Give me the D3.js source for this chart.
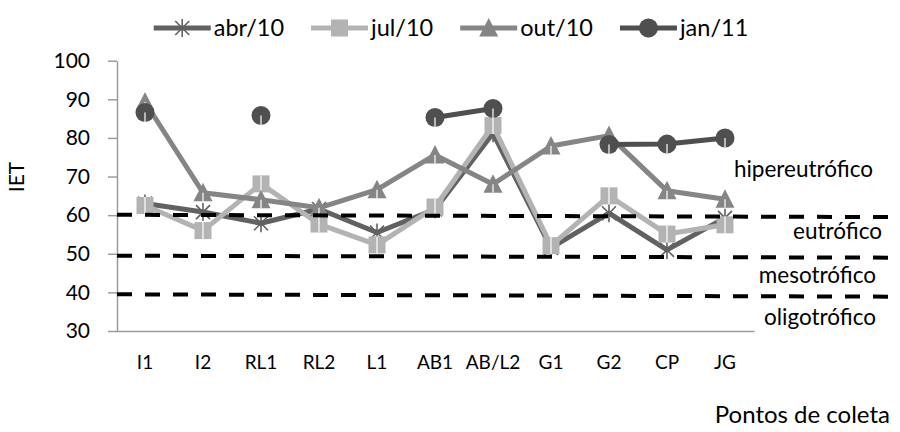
<!DOCTYPE html>
<html>
<head>
<meta charset="utf-8">
<script src="https://cdn.jsdelivr.net/npm/d3@7"></script>
<style>
  html, body { margin: 0; padding: 0; background: #fff; }
  svg { display: block; font-family: Lato, "Open Sans", sans-serif; }
</style>
</head>
<body>
<svg id="chart" width="900" height="432"></svg>
<script>
// ---- data ----
const categories = ["I1", "I2", "RL1", "RL2", "L1", "AB1", "AB/L2", "G1", "G2", "CP", "JG"];
const abr10 = [63.0, 60.8, 57.9, 61.6, 55.5, 61.5, 81.2, 51.5, 60.5, 51.0, 59.3];
const jul10 = [62.5, 56.0, 68.1, 57.7, 52.3, 62.1, 83.2, 52.1, 65.0, 55.1, 57.5];
const out10 = [89.3, 65.8, 64.0, 61.9, 66.6, 75.6, 68.0, 77.9, 80.6, 66.3, 64.1];
const jan11 = [86.6, null, 85.8, null, null, 85.3, 87.6, null, 78.3, 78.4, 80.0];
const seriesNames = ["abr/10", "jul/10", "out/10", "jan/11"];
const yTicks = [30, 40, 50, 60, 70, 80, 90, 100];
const thresholdStart = [60.1, 49.5, 39.5];
const thresholdEnd = [59.5, 49.0, 38.9];
const zoneLabels = ["hipereutrófico", "eutrófico", "mesotrófico", "oligotrófico"];

// ---- setup ----
const svg = d3.select("#chart");
const x = d3.scaleBand().domain(categories).range([116, 754]).paddingInner(0).paddingOuter(0);
const y = d3.scaleLinear().domain([30, 100]).range([331, 60.7]);
const cx = c => x(c) + x.bandwidth() / 2;

const colors = ["#616161", "#b3b3b3", "#858585", "#4f4f4f"];
const shapes = ["star", "square", "triangle", "circle"];
const seriesData = [abr10, jul10, out10, jan11];

// ---- axes ----
const yAxis = svg.append("g").attr("transform", "translate(117,0)")
  .call(d3.axisLeft(y).tickValues(yTicks).tickSize(9).tickPadding(18).tickSizeOuter(0));
yAxis.select(".domain").attr("stroke", "#9c9c9c").attr("stroke-width", 1.5);
yAxis.selectAll(".tick line").attr("stroke", "#9c9c9c").attr("stroke-width", 1.5);
yAxis.selectAll(".tick text").attr("font-size", 21).attr("fill", "#000")
  .attr("font-family", "Lato, sans-serif");

const xAxis = svg.append("g").attr("transform", "translate(0,331)")
  .call(d3.axisBottom(x).tickSize(0).tickSizeOuter(0));
xAxis.select(".domain").attr("stroke", "#9c9c9c").attr("stroke-width", 1.5);
xAxis.selectAll(".tick text").attr("font-size", 19).attr("fill", "#000")
  .attr("font-family", "Lato, sans-serif").attr("y", 38).attr("dy", 0);

// axis titles
svg.append("text").attr("transform", "translate(24,177) rotate(-90)")
  .attr("text-anchor", "middle").attr("font-size", 21).text("IET");
svg.append("text").attr("x", 890).attr("y", 423).attr("text-anchor", "end")
  .attr("font-size", 24).text("Pontos de coleta");

// ---- marker drawing ----
function drawMarker(g, shape, color, streak) {
  if (shape === "star") {
    g.append("path").attr("d", "M-7,-7L7,7M-7,7L7,-7M0,-9L0,9")
      .attr("stroke", color).attr("stroke-width", 1.6).attr("fill", "none");
  } else if (shape === "square") {
    g.append("rect").attr("x", -8.5).attr("y", -8.5).attr("width", 17).attr("height", 17)
      .attr("fill", color);
    if (streak) g.append("line").attr("x1", 0).attr("x2", 0).attr("y1", -8.5).attr("y2", 8.5)
      .attr("stroke", "#fff").attr("stroke-width", 1.2);
  } else if (shape === "triangle") {
    g.append("path").attr("d", "M0,-10L9.5,8.5L-9.5,8.5Z").attr("fill", color);
    if (streak) g.append("line").attr("x1", 0).attr("x2", 0).attr("y1", 0).attr("y2", 8.5)
      .attr("stroke", "#fff").attr("stroke-width", 1.2);
  } else {
    g.append("circle").attr("r", 9.5).attr("fill", color);
    if (streak) g.append("line").attr("x1", 0).attr("x2", 0).attr("y1", 0).attr("y2", 9.5)
      .attr("stroke", "#fff").attr("stroke-width", 1.2);
  }
}

// ---- series ----
const line = d3.line()
  .defined(d => d.v !== null)
  .x(d => cx(d.c)).y(d => y(d.v));

seriesData.forEach((vals, i) => {
  const pts = categories.map((c, j) => ({ c: c, v: vals[j] }));
  const g = svg.append("g");
  g.append("path").datum(pts).attr("d", line)
    .attr("fill", "none").attr("stroke", colors[i]).attr("stroke-width", 5)
    .attr("stroke-linejoin", "round");
  pts.filter(d => d.v !== null).forEach(d => {
    const m = g.append("g").attr("transform", `translate(${cx(d.c)},${y(d.v)})`);
    drawMarker(m, shapes[i], colors[i], true);
  });
});

// ---- threshold dashed lines ----
const xStart = 117, xEnd = 888;
thresholdStart.forEach((v, i) => {
  svg.append("line")
    .attr("x1", xStart).attr("x2", xEnd)
    .attr("y1", y(v)).attr("y2", y(thresholdEnd[i]))
    .attr("stroke", "#000").attr("stroke-width", 4)
    .attr("stroke-dasharray", "15,13");
});

// ---- zone labels ----
const zoneX = [873, 882, 876, 876];
const zoneY = [177, 239, 283, 325];
zoneLabels.forEach((t, i) => {
  svg.append("text").attr("x", zoneX[i]).attr("y", zoneY[i])
    .attr("text-anchor", "end").attr("font-size", 22.5).text(t);
});

// ---- legend ----
const legend = svg.append("g");
const symW = 57, gapT = 3, gapItem = 27;
let items = [];
seriesNames.forEach((n, i) => {
  const g = legend.append("g");
  g.append("line").attr("x1", 0).attr("x2", symW).attr("y1", 28).attr("y2", 28)
    .attr("stroke", colors[i]).attr("stroke-width", 5);
  const m = g.append("g").attr("transform", `translate(${symW / 2},28)`);
  drawMarker(m, shapes[i], colors[i], false);
  const t = g.append("text").attr("x", symW + gapT).attr("y", 36)
    .attr("font-size", 23.5).text(n);
  items.push({ g: g, w: symW + gapT + t.node().getComputedTextLength() });
});
const total = d3.sum(items, d => d.w) + gapItem * (items.length - 1);
let lx = 451 - total / 2;
items.forEach(it => {
  it.g.attr("transform", `translate(${lx},0)`);
  lx += it.w + gapItem;
});
</script>
</body>
</html>
